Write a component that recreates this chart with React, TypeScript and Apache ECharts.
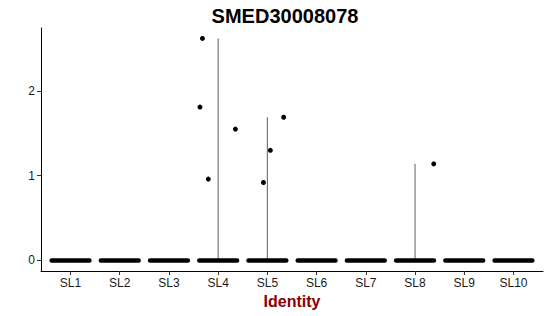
import React, { useEffect, useRef } from "react";
import * as echarts from "echarts";

const categories = ["SL1", "SL2", "SL3", "SL4", "SL5", "SL6", "SL7", "SL8", "SL9", "SL10"];
const violinMax = [0, 0, 0, 2.62, 1.69, 0, 0, 1.14, 0, 0];
const zeroJitterHalf = [0.43, 0.43, 0.43, 0.43, 0.43, 0.43, 0.43, 0.43, 0.43, 0.43];
const pointCategory = [4, 4, 4, 4, 5, 5, 5, 8];
const pointJitter = [-0.32, -0.37, 0.35, -0.2, 0.33, 0.06, -0.08, 0.38];
const pointValues = [2.62, 1.81, 1.55, 0.96, 1.69, 1.3, 0.92, 1.14];
const yTicks = [0, 1, 2];
const titleText = "SMED30008078";
const xTitle = "Identity";

export default function App() {
  const ref = useRef<HTMLDivElement>(null);
  useEffect(() => {
    const chart = echarts.init(ref.current!, null, { renderer: "svg" });
    const catIdx = categories.map((_, i) => i + 1);
    chart.setOption({
      animation: false,
      backgroundColor: "#ffffff",
      textStyle: { fontFamily: "Liberation Sans" },
      title: {
        text: titleText,
        left: 280,
        top: 1,
        textAlign: "center",
        textStyle: { fontSize: 20, fontWeight: "bold", color: "#000", fontFamily: "Liberation Sans" },
      },
      grid: { left: 41, right: 7, top: 28, bottom: 45, containLabel: false },
      xAxis: {
        type: "value",
        min: 0.4,
        max: 10.6,
        name: xTitle,
        nameLocation: "middle",
        nameGap: 22,
        nameTextStyle: { fontSize: 16, fontWeight: "bold", color: "#8B0000", fontFamily: "Liberation Sans" },
        axisLine: { show: true, onZero: false, lineStyle: { color: "#000", width: 1 } },
        axisTick: { show: true, length: 4, customValues: catIdx, lineStyle: { color: "#333" } },
        axisLabel: {
          customValues: catIdx,
          formatter: (v: number) => categories[Math.round(v) - 1] ?? "",
          fontSize: 12,
          color: "#1a1a1a",
          margin: 6,
        },
        splitLine: { show: false },
      },
      yAxis: {
        type: "value",
        min: -0.124,
        max: 2.743,
        axisLine: { show: true, onZero: false, lineStyle: { color: "#000", width: 1 } },
        axisTick: { show: true, length: 4, customValues: yTicks, lineStyle: { color: "#333" } },
        axisLabel: { customValues: yTicks, fontSize: 12, color: "#1a1a1a", margin: 6 },
        splitLine: { show: false },
      },
      series: [
        {
          type: "custom",
          data: violinMax.map((m, i) => [i + 1, m]),
          renderItem: (params: any, api: any) => {
            const x = api.value(0);
            const m = api.value(1);
            if (m <= 0) return { type: "group", children: [] };
            const p0 = api.coord([x, 0]);
            const p1 = api.coord([x, m]);
            return {
              type: "line",
              shape: { x1: p0[0], y1: p0[1], x2: p1[0], y2: p1[1] },
              style: { stroke: "#777", lineWidth: 1.2 },
            };
          },
          z: 1,
        },
        {
          type: "custom",
          data: zeroJitterHalf.map((h, i) => [i + 1, h]),
          renderItem: (params: any, api: any) => {
            const x = api.value(0);
            const h = api.value(1);
            const a = api.coord([x - h, 0]);
            const b = api.coord([x + h, 0]);
            return {
              type: "rect",
              shape: { x: a[0], y: a[1] - 2.3, width: b[0] - a[0], height: 4.6, r: 2.3 },
              style: { fill: "#000" },
            };
          },
          z: 2,
        },
        {
          type: "scatter",
          symbolSize: 5,
          itemStyle: { color: "#000", opacity: 1 },
          data: pointValues.map((v, i) => [pointCategory[i] + pointJitter[i], v]),
          z: 3,
        },
      ],
    });
    return () => chart.dispose();
  }, []);
  return <div ref={ref} style={{ width: 550, height: 316, position: "absolute", left: 0, top: 0 }} />;
}
